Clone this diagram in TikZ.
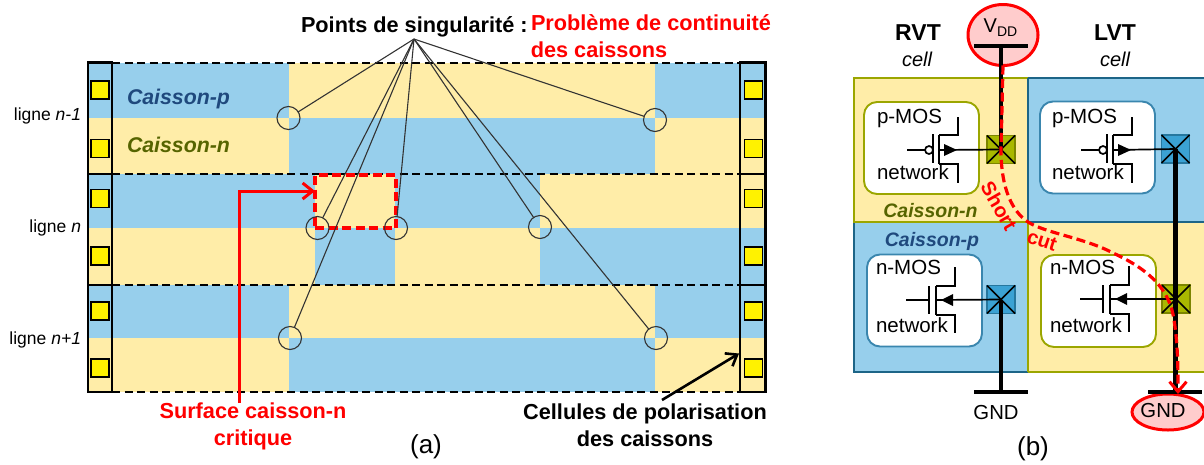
\documentclass[tikz,border=0pt]{standalone}
\usepackage{fontspec}
\setmainfont{Liberation Sans}
\usetikzlibrary{shapes.geometric,arrows.meta}
\definecolor{wellblue}{HTML}{97CFEC}
\definecolor{wellyel}{HTML}{FFEDA8}
\definecolor{olivetxt}{HTML}{566400}
\definecolor{bluetxt}{HTML}{1F497D}
\definecolor{oliveln}{HTML}{9BA600}
\definecolor{blueln}{HTML}{1D6587}
\definecolor{innerblue}{HTML}{3A86AE}
\definecolor{conolive}{HTML}{A9B800}
\definecolor{conblue}{HTML}{3BA2D4}
\definecolor{pinkf}{HTML}{FFCCCC}
\newcommand{\fsz}[1]{\fontsize{#1}{#1}\selectfont}
\tikzset{
  base/.style={inner sep=0pt,outer sep=0pt},
  yel/.style={fill=wellyel,draw=none},
  blu/.style={fill=wellblue,draw=none},
  pad/.style={base,draw=black,line width=1.8pt,fill=yellow,minimum size=18pt},
  sing/.style={base,circle,draw=black!80,line width=1.1pt,minimum size=23pt},
  leader/.style={draw=black!80,line width=1.1pt},
  sep/.style={black,line width=2.2pt,dash pattern=on 8pt off 4.5pt},
  solid1/.style={black,line width=2.1pt},
  boldblk/.style={base,font=\fsz{21.7}\bfseries},
  boldred/.style={base,font=\fsz{21.7}\bfseries,text=red},
  lbl/.style={base,font=\fsz{17.5},anchor=base east},
  well/.style={base,font=\fsz{21.3}\bfseries\itshape,anchor=base west},
  wellb/.style={base,font=\fsz{19.5}\bfseries\itshape,anchor=base},
  net/.style={base,font=\fsz{20.5},anchor=base west},
  inner/.style={base,rounded corners=13pt,fill=white,line width=1.9pt,minimum width=115pt,minimum height=92pt},
  conn/.style={base,minimum size=28pt,line width=1.5pt},
  xcross/.style={black,line width=1.6pt},
  power/.style={black,line width=4.2pt},
  wire/.style={black,line width=1.7pt},
  dev/.style={black,line width=1.7pt},
  rail/.style={base,ellipse,draw=red,fill=pinkf,line width=3pt},
  redline/.style={red,line width=3.2pt,dash pattern=on 9pt off 4.5pt},
}
\newcommand{\pmosdev}[2]{\begin{scope}[shift={(#1)}]
  \coordinate (#2) at (0,0);
  \draw[dev] (-32,0) -- (-14,0);
  \draw[dev] (-10,0) circle (4);
  \draw[dev,line width=2pt] (-6,-16) -- (-6,13);
  \draw[dev,line width=2pt] (0,-15) -- (0,14);
  \draw[dev] (0,-15) -- (19,-15) -- (19,-33);
  \draw[dev] (0,14) -- (19,14) -- (19,33);
  \fill[black] (5,-6) -- (18,0) -- (5,6) -- cycle;
\end{scope}}
\newcommand{\nmosdev}[2]{\begin{scope}[shift={(#1)}]
  \coordinate (#2) at (0,0);
  \draw[dev] (-30,0) -- (-7,0);
  \draw[dev,line width=2pt] (-7,-14) -- (-7,14);
  \draw[dev,line width=2pt] (0,-14) -- (0,15);
  \draw[dev] (0,-14) -- (19,-14) -- (19,-33);
  \draw[dev] (0,15) -- (19,15) -- (19,33);
  \fill[black] (5,0) -- (17,-6) -- (17,6) -- cycle;
\end{scope}}
\begin{document}
\begin{tikzpicture}[x=1pt,y=-1pt]
\useasboundingbox (0,0) rectangle (1204,464);
% ---------- panel (a) wells
\fill[blu] (88,63) rectangle (289,118);
\fill[yel] (289,63) rectangle (655,118);
\fill[blu] (655,63) rectangle (765,118);
\fill[yel] (88,118) rectangle (289,174);
\fill[blu] (289,118) rectangle (655,174);
\fill[yel] (655,118) rectangle (765,174);
\fill[blu] (88,174) rectangle (315,228);
\fill[yel] (315,174) rectangle (395,228);
\fill[blu] (395,174) rectangle (540,228);
\fill[yel] (540,174) rectangle (765,228);
\fill[yel] (88,228) rectangle (315,285);
\fill[blu] (315,228) rectangle (395,285);
\fill[yel] (395,228) rectangle (540,285);
\fill[blu] (540,228) rectangle (765,285);
\fill[blu] (88,285) rectangle (289,338);
\fill[yel] (289,285) rectangle (655,338);
\fill[blu] (655,285) rectangle (765,338);
\fill[yel] (88,338) rectangle (289,392);
\fill[blu] (289,338) rectangle (655,392);
\fill[yel] (655,338) rectangle (765,392);
% separators
\foreach \yy in {63,174,285,392} \draw[sep] (112,\yy) -- (740,\yy);
\draw[solid1] (88,62.5) rectangle (112,392);
\draw[solid1] (740,62.5) rectangle (765.5,392);
\draw[solid1] (88,174) -- (112,174);
\draw[solid1] (88,285) -- (112,285);
\draw[solid1] (740,174) -- (764,174);
\draw[solid1] (740,285) -- (764,285);
% polarisation pads
\foreach \nm/\yy in {a/90,b/148.5,c/198.5,d/256,e/311,f/368}{
  \node[pad] (l\nm) at (100,\yy) {};
  \node[pad] (r\nm) at (753.5,\yy) {};
}
% labels
\node[lbl] (l1) at (81,120) {ligne \textit{n-1}};
\node[lbl] (l2) at (81,232) {ligne \textit{n}};
\node[lbl] (l3) at (81,344) {ligne \textit{n+1}};
\node[well,text=bluetxt] (wp) at (127,104) {Caisson-p};
\node[well,text=olivetxt] (wn) at (127,152) {Caisson-n};
% critical surface
\node[base,minimum width=81pt,minimum height=53pt,draw=red,line width=3.2pt,dash pattern=on 9pt off 4.5pt] (crit) at (355.5,201.5) {};
% singular points
\node[sing] (s1) at (288.5,118) {};
\node[sing] (s2) at (655,120) {};
\node[sing] (s3) at (317.5,228) {};
\node[sing] (s4) at (396,228) {};
\node[sing] (s5) at (540,227) {};
\node[sing] (s6) at (290,338) {};
\node[sing] (s7) at (656,338) {};
\coordinate (apex) at (414,39);
\foreach \i in {1,...,7} \draw[leader] (apex) -- (s\i);
% titles
\node[boldblk,anchor=base west] (t1) at (301,32) {Points de singularité :};
\node[boldred,anchor=north west,align=center] (t2) at (531,15) {\fsz{21.7}Problème de continuité\\[5pt]\hspace*{-104pt}des caissons};
\node[boldred,align=center] (t3) at (253,426.5) {Surface caisson-n\\[5pt]critique};
\node[boldblk,align=center] (t4) at (645,425) {Cellules de polarisation\\[5pt]des caissons};
\coordinate (critstart) at (239,403);
\draw[red,line width=3pt,-{Straight Barb[length=10pt,width=16pt,line width=3pt]}] (critstart) -- (239,191) -- (crit.west |- 0,191);
\coordinate (cellstart) at (662,400);
\coordinate (cellend) at (739,353.5);
\draw[black,line width=2.6pt,-{Straight Barb[length=10pt,width=15pt,line width=2.6pt]}] (cellstart) -- (cellend);
\node[base,font=\fsz{26},anchor=base] (capa) at (426,453) {(a)};
% ---------- panel (b)
\path[fill=wellblue] (1028,78) rectangle (1204,222);
\path[fill=wellyel] (1028,222) rectangle (1204,372);
\path[fill=wellyel] (853.5,78) rectangle (1028,222);
\path[fill=wellblue] (853.5,222) rectangle (1028,372);
\draw[oliveln,line width=2pt] (1028,222) -- (853.5,222) -- (853.5,78) -- (1028,78);
\draw[blueln,line width=2pt] (1028,222) -- (1204,222);
\draw[blueln,line width=2pt] (1028,78) -- (1204,78);
\draw[blueln,line width=2pt] (853.5,223) -- (853.5,372) -- (1028,372);
\draw[oliveln,line width=2pt] (1028,372) -- (1204,372);
\draw[blueln,line width=2pt] (1028,78) -- (1028,222);
\draw[oliveln,line width=2pt] (1028,222) -- (1028,372);
\node[inner,draw=oliveln] (b1) at (921.5,148) {};
\node[inner,draw=innerblue] (b2) at (1097.5,147.5) {};
\node[inner,draw=innerblue] (b3) at (924.5,300.5) {};
\node[inner,draw=oliveln] (b4) at (1098.5,301) {};
\node[net] at (877,123) {p-MOS};
\node[net] at (877,179.5) {network};
\node[net] at (1052,123) {p-MOS};
\node[net] at (1052,179.5) {network};
\node[net] at (876,274) {n-MOS};
\node[net] at (876,332) {network};
\node[net] at (1050,274) {n-MOS};
\node[net] at (1050,332) {network};
\pmosdev{939,150}{ch1}
\pmosdev{1113,150}{ch2}
\nmosdev{936,300}{ch3}
\nmosdev{1110,299}{ch4}
\node[conn,fill=conolive,draw=oliveln!80!black] (k1) at (1001,149.5) {};
\node[conn,fill=conblue,draw=blueln!70!conblue] (k2) at (1175.5,149) {};
\node[conn,fill=conblue,draw=blueln!70!conblue] (k3) at (1001,299.5) {};
\node[conn,fill=conolive,draw=oliveln!80!black] (k4) at (1176,299) {};
\foreach \k in {k1,k2,k3,k4}{
  \draw[xcross] (\k.north west) -- (\k.south east);
  \draw[xcross] (\k.south west) -- (\k.north east);
}
\foreach \a/\b in {ch1/k1,ch2/k2,ch3/k3,ch4/k4} \draw[wire] (\a) -- (\b.center);
% rails
\node[rail,minimum width=70pt,minimum height=61pt] (vdd) at (1003,35) {};
\node[rail,minimum width=72pt,minimum height=36pt] (gndr) at (1168,412) {};
\coordinate (vbarl) at (974,46); \coordinate (vbarr) at (1028,46);
\coordinate (vbarm) at (1001,46);
\coordinate (g1l) at (974,392); \coordinate (g1r) at (1028,392); \coordinate (g1m) at (1001,392);
\coordinate (g2l) at (1148,392); \coordinate (g2r) at (1202,392); \coordinate (g2m) at (1175.5,392);
\draw[power] (vbarl) -- (vbarr);
\draw[power] (g1l) -- (g1r);
\draw[power] (g2l) -- (g2r);
\draw[power] (vbarm) -- (k1.center);
\draw[power] (g1m) -- (k3.center);
\draw[power] (g2m) -- (k2.center);
\node[base,font=\fsz{20},anchor=base] (vddt) at (1000.5,32) {V\raisebox{-4pt}{\fsz{14}DD}};
\node[base,font=\fsz{20.3},anchor=base] (gndt) at (996,419) {GND};
\node[base,font=\fsz{20.3},anchor=base] (gndrt) at (1163,417) {GND};
\node[base,font=\fsz{23}\bfseries,anchor=base] (rvt) at (918,40) {RVT};
\node[base,font=\fsz{20}\itshape,anchor=base] (rvtc) at (917,66) {cell};
\node[base,font=\fsz{23}\bfseries,anchor=base] (lvt) at (1115,40) {LVT};
\node[base,font=\fsz{20}\itshape,anchor=base] (lvtc) at (1115,66) {cell};
\node[wellb,text=olivetxt] (wn2) at (930.5,217) {Caisson-n};
\node[wellb,text=bluetxt] (wp2) at (932,246) {Caisson-p};
% short cut
\draw[redline,-{Straight Barb[length=10pt,width=17pt,line width=3pt]}] (vdd.south)
  -- (1001,150) .. controls (1001,190) and (1013,212) .. (1028,222)
  .. controls (1045,233) and (1085,238) .. (1113,253)
  .. controls (1150,270) and (1170,290) .. (1174,320)
  .. controls (1178,345) and (1178,370) .. (gndr.north -| 1178,0);
\node[base,font=\fsz{20}\bfseries,text=red,rotate=-60] (sh) at (999,206) {Short};
\node[base,font=\fsz{20}\bfseries,text=red,rotate=-18] (cu) at (1042,241) {cut};
\node[base,font=\fsz{26},anchor=base] (capb) at (1033,455) {(b)};
\end{tikzpicture}
\end{document}
